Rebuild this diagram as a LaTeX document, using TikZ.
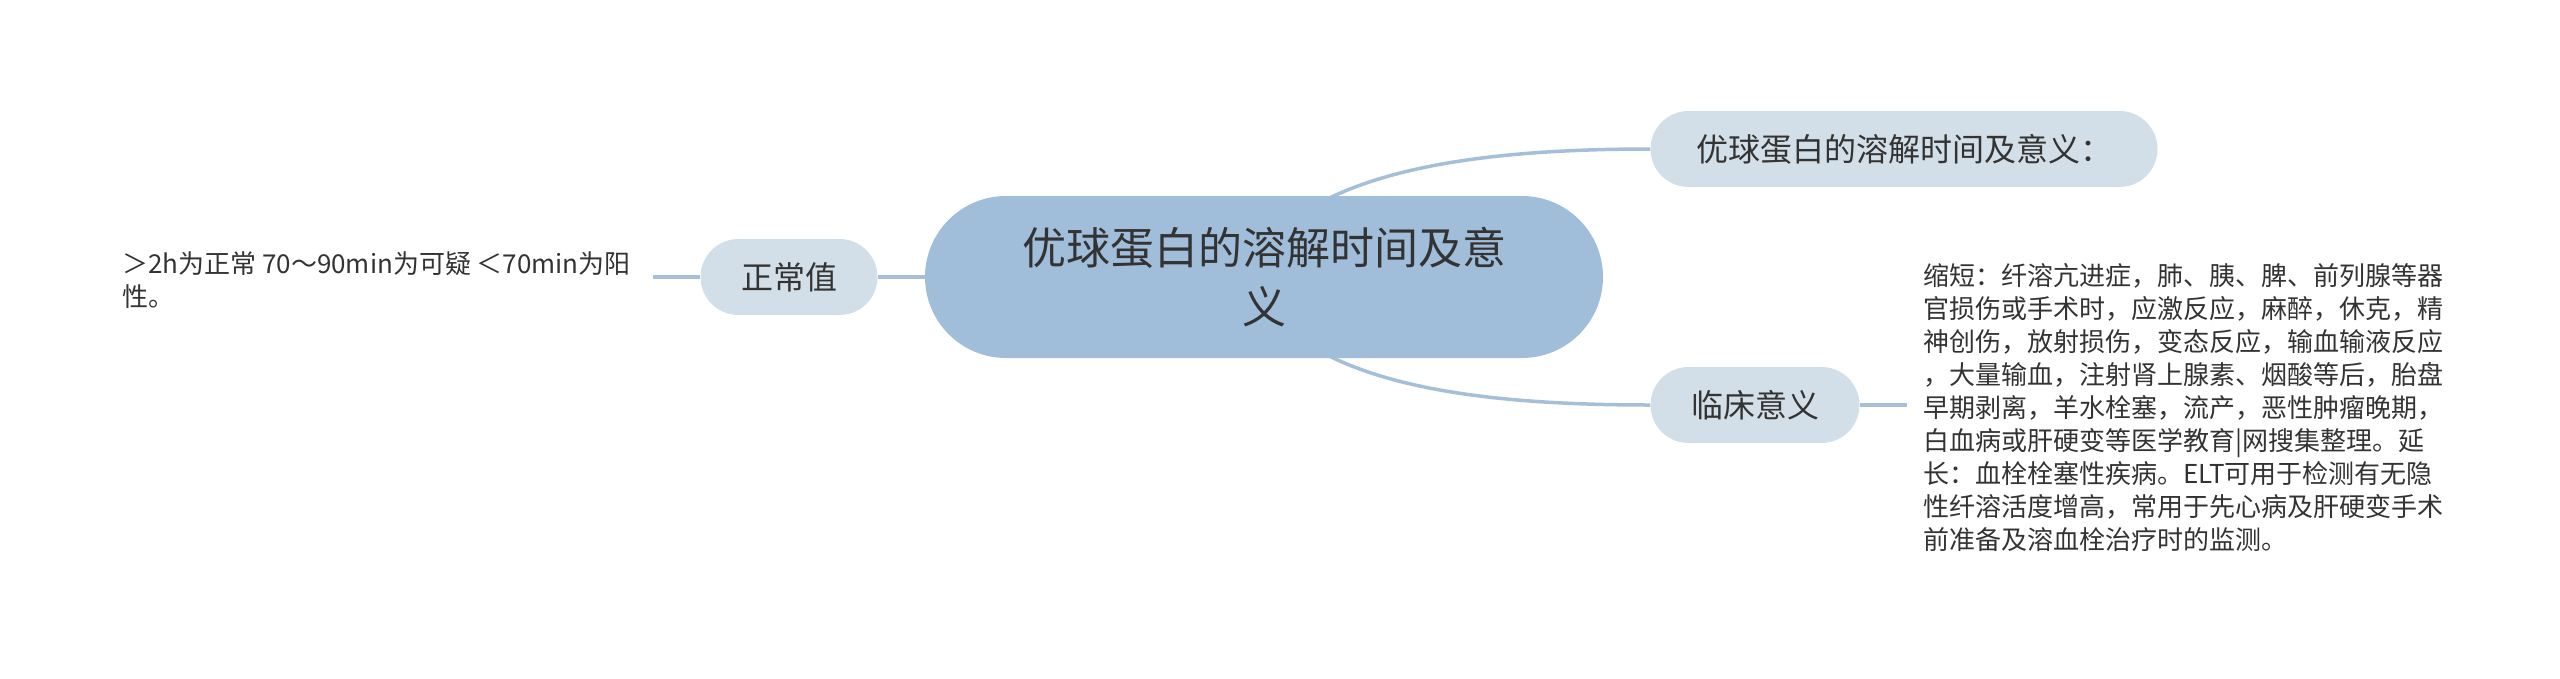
\documentclass[tikz,border=0pt]{standalone}
\usepackage{fontspec}
\setmainfont{Noto Sans CJK SC}
\usetikzlibrary{shapes.misc,calc}
\definecolor{mainfill}{HTML}{A0BEDA}
\definecolor{subfill}{HTML}{D3DFE8}
\definecolor{linkcol}{HTML}{A5BFD8}
\definecolor{txt}{HTML}{333333}
\pgfdeclarelayer{bg}
\pgfsetlayers{bg,main}
\begin{document}
\begin{tikzpicture}[x=1pt,y=-1pt,
  mainnode/.style={rounded rectangle, fill=mainfill, minimum width=678pt, minimum height=162pt, inner sep=0pt, text=txt, font=\fontsize{44}{59}\selectfont, align=center},
  subnode/.style={rounded rectangle, fill=subfill, minimum height=76pt, inner sep=0pt, text=txt, font=\fontsize{32}{40}\selectfont},
  bodytext/.style={inner sep=0pt, text=txt, font=\fontsize{26}{33}\selectfont, align=left, anchor=west},
  link/.style={draw=linkcol, line width=3.5pt}
]
\useasboundingbox (0,0) rectangle (2560,678);

\node[mainnode] (c) at (1264,277) {优球蛋白的溶解时间及意\\义};
\node[subnode, minimum width=507pt] (t) at (1904,149) {优球蛋白的溶解时间及意义：};
\node[subnode, minimum width=209pt] (k) at (1755,405) {临床意义};
\node[subnode, minimum width=177pt] (z) at (789,277) {正常值};
\node[bodytext] (zt) at (122,280) {＞2h为正常 70～90min为可疑 ＜70min为阳\\性。};
\node[bodytext] (kt) at (1923,407) {缩短：纤溶亢进症，肺、胰、脾、前列腺等器\\官损伤或手术时，应激反应，麻醉，休克，精\\神创伤，放射损伤，变态反应，输血输液反应\\，大量输血，注射肾上腺素、烟酸等后，胎盘\\早期剥离，羊水栓塞，流产，恶性肿瘤晚期，\\白血病或肝硬变等医学教育|网搜集整理。延\\长：血栓栓塞性疾病。ELT可用于检测有无隐\\性纤溶活度增高，常用于先心病及肝硬变手术\\前准备及溶血栓治疗时的监测。};
\coordinate (zend) at (653,277);
\coordinate (kend) at (1907,405);

\begin{pgfonlayer}{bg}
\draw[link] ([xshift=54pt,yshift=-8pt]c.north) .. controls (1390,165) and (1500,149) .. (t.west);
\draw[link] ([xshift=54pt,yshift=8pt]c.south) .. controls (1390,390) and (1500,405) .. (k.west);
\draw[link] (c.west) -- (z.east);
\draw[link] (z.west) -- (zend);
\draw[link] (k.east) -- (kend);
\end{pgfonlayer}
\end{tikzpicture}
\end{document}
